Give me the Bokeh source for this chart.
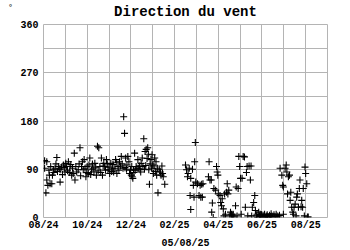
from bokeh.plotting import figure
from bokeh.models import FixedTicker, Range1d, Title
from bokeh.embed import file_html
from bokeh.resources import INLINE

title_text = "Direction du vent"
unit_text = "°"
date_text = "05/08/25"
month_labels = ["08/24", "", "10/24", "", "12/24", "", "02/25", "", "04/25", "", "06/25", "", "08/25", ""]
y_ticks = [0, 45, 90, 135, 180, 225, 270, 315, 360]
y_labels = ["0", "", "90", "", "180", "", "270", "", "360"]

# x = months since 08/24 (fractional), y = direction in degrees
months_a = [0.11, 0.05, 0.15, 0.05, 0.15, 0.20, 0.30, 0.38, 0.27, 0.41, 0.45, 0.61, 0.53, 0.68, 0.76, 0.76,
            0.83, 0.91, 0.98, 1.06, 1.14, 1.21, 1.29, 1.36, 1.41, 1.44, 1.48, 1.59, 1.67, 1.74, 1.82, 1.86,
            1.94, 2.00, 2.05, 2.12, 2.20, 2.27, 2.35, 2.42, 2.47, 2.53, 2.58, 2.65, 2.70, 2.76, 2.80, 2.88,
            2.95, 3.03, 3.08, 3.15, 3.21, 3.30, 3.36, 3.41, 3.48, 3.56, 3.64, 3.67, 3.71, 3.76, 3.82, 3.86,
            3.91, 3.94, 4.02, 4.06, 4.09, 4.12, 4.17, 4.24, 4.32, 4.36, 4.42, 4.47, 4.52, 4.55, 4.59, 4.65,
            4.70, 4.77, 4.82, 4.85, 4.92, 4.97, 5.00, 5.03, 5.09, 5.15, 5.18, 5.24, 5.30, 5.38, 5.42, 5.45,
            5.48, 5.55,
            0.25, 0.33, 0.47, 0.57, 0.64, 0.72, 0.87, 0.95, 1.02, 1.10, 1.18, 1.25, 1.33, 1.52, 1.63, 1.70,
            1.78, 1.90, 1.98, 2.08, 2.16, 2.24, 2.31, 2.39, 2.50, 2.62, 2.73, 2.84, 2.92, 3.00, 3.12, 3.18,
            3.27, 3.33, 3.45, 3.52, 3.60, 3.73, 3.80, 3.98, 4.04, 4.14, 4.20, 4.28, 4.39, 4.45, 4.62, 4.68,
            4.74, 4.80, 4.88, 4.95, 5.06, 5.12, 5.21, 5.35]
degrees_a = [46, 106, 104, 92, 70, 60, 63, 63, 79, 79, 89, 112, 92, 95, 89, 66,
             94, 98, 85, 95, 104, 95, 79, 82, 120, 70, 95, 89, 130, 95, 89, 108,
             76, 95, 82, 111, 89, 92, 101, 79, 133, 130, 95, 111, 79, 101, 95, 108,
             89, 82, 101, 92, 85, 108, 82, 95, 104, 114, 92, 188, 157, 111, 98, 114,
             104, 82, 79, 76, 73, 89, 120, 95, 108, 92, 89, 101, 111, 95, 147, 123,
             127, 130, 89, 62, 108, 117, 98, 82, 111, 104, 79, 46, 89, 79, 96, 82,
             76, 62,
             88, 95, 84, 100, 86, 91, 80, 93, 101, 87, 84, 99, 92, 85, 100, 78,
             104, 92, 84, 98, 80, 100, 85, 94, 87, 84, 96, 88, 100, 94, 86, 99,
             92, 103, 88, 96, 100, 93, 90, 88, 95, 84, 88, 92, 96, 85, 90, 97,
             110, 118, 100, 92, 96, 86, 92, 85]

months_b = [6.50, 6.55, 6.59, 6.67, 6.62, 6.74, 6.71, 6.74, 6.82, 6.86, 6.89, 6.92, 6.95, 6.97, 7.05, 7.12,
            7.17, 7.20, 7.24, 7.27, 7.30, 7.58, 7.55, 7.62, 7.68, 7.73, 7.70, 7.77, 7.80, 7.88, 7.92, 7.95,
            7.98, 8.00, 8.08, 8.11, 8.15, 8.18, 8.23, 8.26, 8.29, 8.33, 8.38, 8.41, 8.44, 8.48, 8.53, 8.56,
            8.61, 8.64, 8.68, 8.71, 8.79, 8.82, 8.86, 8.91, 8.94, 8.98, 9.02, 9.05, 9.09, 9.14, 9.20, 9.24,
            9.29, 9.32, 9.35, 9.41, 9.47, 9.50, 9.53, 9.56, 9.62, 9.67, 9.70, 9.74, 9.77, 9.80, 9.85, 9.89,
            9.92, 9.95, 9.98, 10.02, 10.05, 10.09, 10.12, 10.15, 10.20, 10.24, 10.27, 10.30, 10.35, 10.39,
            10.42, 10.46, 10.50, 10.55, 10.60, 10.65, 10.70, 10.75, 10.80, 10.98, 10.83, 10.91, 10.95,
            10.98, 11.06, 11.11, 11.14, 11.17, 11.21, 11.26, 11.29, 11.32, 11.36, 11.41, 11.44, 11.47,
            11.52, 11.56, 11.59, 11.62, 11.67, 11.71, 11.74, 11.79, 11.82, 11.86, 11.89, 11.94, 11.97,
            12.00, 12.05, 12.08, 12.12]
degrees_b = [98, 89, 76, 92, 82, 73, 41, 15, 90, 60, 38, 104, 140, 66, 63, 41,
             60, 38, 62, 38, 63, 104, 76, 70, 70, 27, 10, 0, 54, 51, 95, 85,
             79, 44, 41, 28, 22, 35, 16, 3, 44, 6, 47, 63, 44, 51, 3, 10,
             6, 3, 6, 1, 22, 57, 3, 54, 114, 95, 73, 6, 73, 114, 113, 19,
             84, 95, 3, 96, 70, 96, 3, 19, 28, 41, 13, 3, 6, 0, 10, 3,
             6, 2, 5, 1, 4, 2, 6, 1, 3, 5, 2, 0, 4, 2,
             7, 3, 1, 5, 2, 6, 3, 1, 4, 6, 92, 79, 60,
             57, 92, 98, 85, 44, 76, 79, 32, 47, 19, 10, 6, 19,
             25, 3, 38, 44, 19, 54, 70, 20, 32, 19, 54, 3, 94,
             82, 63, 1, 1]

FONT = "Liberation Mono"
GRID = "#b4b4b4"

p = figure(width=350, height=250, output_backend="svg", toolbar_location=None,
           x_range=Range1d(0, 13), y_range=Range1d(0, 360),
           min_border_left=43, min_border_right=23, min_border_top=24, min_border_bottom=33)
p.outline_line_color = GRID
p.background_fill_color = "white"
p.border_fill_color = "white"

p.title.text = title_text
p.title.align = "center"
p.title.vertical_align = "top"
p.title.offset = -10
p.title.standoff = 6
p.title.text_font = FONT
p.title.text_font_style = "bold"
p.title.text_font_size = "14px"
p.title.text_color = "black"

p.xaxis.ticker = FixedTicker(ticks=list(range(14)))
p.xaxis.major_label_overrides = {i: s for i, s in enumerate(month_labels)}
p.yaxis.ticker = FixedTicker(ticks=y_ticks)
p.yaxis.major_label_overrides = {t: s for t, s in zip(y_ticks, y_labels)}
for ax in (p.xaxis, p.yaxis):
    ax.axis_line_color = None
    ax.major_tick_line_color = None
    ax.minor_tick_line_color = None
    ax.major_tick_out = 0
    ax.major_tick_in = 0
    ax.minor_tick_out = 0
    ax.minor_tick_in = 0
    ax.major_label_text_font = FONT
    ax.major_label_text_font_style = "bold"
    ax.major_label_text_font_size = "10px"
    ax.major_label_text_color = "black"
p.xaxis.major_label_standoff = 2
p.yaxis.major_label_standoff = 5
p.xgrid.ticker = FixedTicker(ticks=list(range(14)))
p.xgrid.grid_line_color = GRID
p.ygrid.grid_line_color = GRID

p.scatter(months_a + months_b, degrees_a + degrees_b, marker="cross", size=7,
          line_color="black", line_width=1.1)

p.add_layout(Title(text=date_text, align="center", offset=-10, standoff=4,
                   text_font=FONT, text_font_style="bold", text_font_size="10px",
                   text_color="black"), "below")
p.add_layout(Title(text=unit_text, align="right", offset=-22, standoff=0,
                   text_font=FONT, text_font_style="normal", text_font_size="9px",
                   text_color="black"), "left")

open("out.html", "w").write(file_html(p, INLINE))
